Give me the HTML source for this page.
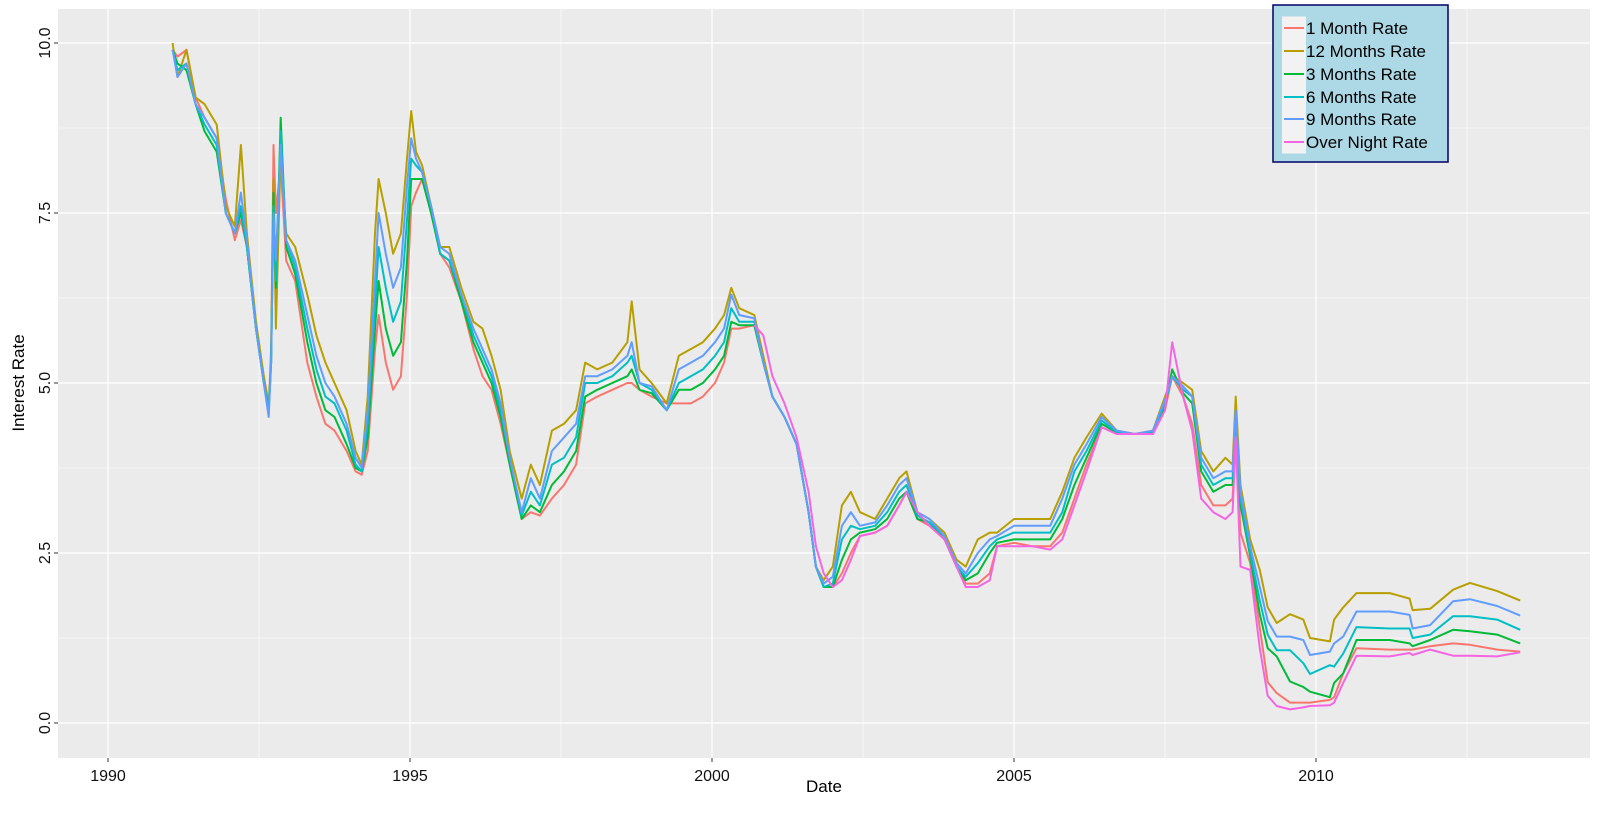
<!DOCTYPE html>
<html><head><meta charset="utf-8"><style>
html,body{margin:0;padding:0;background:#fff;}
svg{display:block;font-family:"Liberation Sans",Arial,sans-serif;}
</style></head><body>
<svg id="chart" width="1600" height="817" viewBox="0 0 1600 817">
<rect x="58" y="9" width="1532" height="749" fill="#EBEBEB"/>
<g id="grid"></g>
<g id="series"></g>
<g id="axes"></g>
<text x="824" y="792" text-anchor="middle" font-size="17" fill="#000">Date</text>
<text transform="translate(24,383) rotate(-90)" text-anchor="middle" font-size="17" fill="#000">Interest Rate</text>
<g id="legend">
<rect x="1273" y="5" width="175" height="157" fill="#ADD8E6" stroke="#000066" stroke-width="1.5"/>
</g>
</svg>
<script>
const dates=[1991.07,1991.15,1991.3,1991.45,1991.6,1991.8,1991.95,1992.1,1992.2,1992.3,1992.45,1992.58,1992.66,1992.7,1992.74,1992.78,1992.86,1992.95,1993.1,1993.3,1993.45,1993.6,1993.75,1993.95,1994.1,1994.2,1994.3,1994.42,1994.48,1994.6,1994.72,1994.85,1994.95,1995.02,1995.1,1995.2,1995.35,1995.5,1995.65,1995.85,1996.05,1996.2,1996.35,1996.5,1996.65,1996.85,1997.0,1997.15,1997.35,1997.55,1997.75,1997.9,1998.1,1998.35,1998.6,1998.67,1998.8,1999.0,1999.25,1999.45,1999.65,1999.85,2000.05,2000.2,2000.32,2000.45,2000.7,2000.85,2001.0,2001.2,2001.4,2001.6,2001.72,2001.85,2002.0,2002.15,2002.3,2002.45,2002.7,2002.9,2003.1,2003.22,2003.4,2003.6,2003.85,2004.05,2004.2,2004.4,2004.6,2004.72,2005.0,2005.3,2005.6,2005.8,2006.0,2006.2,2006.45,2006.7,2007.0,2007.3,2007.5,2007.62,2007.8,2007.95,2008.1,2008.3,2008.5,2008.62,2008.67,2008.75,2008.91,2009.07,2009.2,2009.35,2009.57,2009.79,2009.9,2010.23,2010.3,2010.45,2010.67,2011.22,2011.55,2011.6,2011.89,2012.27,2012.55,2013.0,2013.38];
const rate12m=[10.0,9.5,9.9,9.2,9.1,8.8,7.6,7.3,8.5,7.2,5.9,5.1,4.6,5.5,8.0,5.8,8.4,7.2,7.0,6.3,5.7,5.3,5.0,4.6,4.0,3.8,4.8,7.2,8.0,7.5,6.9,7.2,8.3,9.0,8.4,8.2,7.6,7.0,7.0,6.4,5.9,5.8,5.4,4.9,4.0,3.3,3.8,3.5,4.3,4.4,4.6,5.3,5.2,5.3,5.6,6.2,5.2,5.0,4.7,5.4,5.5,5.6,5.8,6.0,6.4,6.1,6.0,5.4,4.8,4.5,4.1,3.1,2.3,2.1,2.3,3.2,3.4,3.1,3.0,3.3,3.6,3.7,3.1,3.0,2.8,2.4,2.3,2.7,2.8,2.8,3.0,3.0,3.0,3.4,3.9,4.2,4.55,4.3,4.25,4.3,4.8,5.1,5.0,4.9,4.0,3.7,3.9,3.8,4.8,3.5,2.7,2.25,1.7,1.47,1.6,1.52,1.25,1.2,1.52,1.7,1.91,1.91,1.83,1.66,1.68,1.96,2.06,1.94,1.8];
const rate9m=[9.9,9.5,9.7,9.1,8.9,8.6,7.5,7.2,7.8,7.1,5.8,5.0,4.5,5.3,7.5,6.8,8.5,7.1,6.8,6.0,5.4,5.0,4.8,4.4,3.9,3.75,4.6,6.5,7.5,6.9,6.4,6.7,7.9,8.6,8.3,8.1,7.6,7.0,6.9,6.3,5.8,5.5,5.2,4.7,3.9,3.1,3.6,3.3,4.0,4.2,4.4,5.1,5.1,5.2,5.4,5.6,5.0,4.95,4.6,5.2,5.3,5.4,5.6,5.8,6.3,6.0,5.95,5.3,4.8,4.5,4.1,3.1,2.3,2.05,2.15,2.9,3.1,2.9,2.95,3.2,3.5,3.6,3.1,3.0,2.75,2.35,2.2,2.5,2.7,2.75,2.9,2.9,2.9,3.3,3.8,4.1,4.5,4.3,4.25,4.3,4.75,5.1,4.95,4.8,3.9,3.6,3.7,3.7,4.6,3.4,2.6,2.0,1.5,1.27,1.27,1.22,1.0,1.05,1.17,1.27,1.64,1.64,1.59,1.39,1.44,1.79,1.82,1.72,1.58];
const rate6m=[9.9,9.6,9.7,9.1,8.8,8.5,7.5,7.2,7.6,7.0,5.8,5.0,4.6,5.3,7.6,6.5,8.7,7.1,6.7,5.8,5.2,4.8,4.7,4.3,3.8,3.7,4.4,6.1,7.0,6.4,5.9,6.2,7.4,8.3,8.2,8.1,7.6,6.9,6.8,6.3,5.7,5.4,5.1,4.6,3.9,3.05,3.4,3.2,3.8,3.9,4.2,5.0,5.0,5.1,5.3,5.4,5.0,4.9,4.6,5.0,5.1,5.2,5.4,5.6,6.1,5.9,5.9,5.3,4.8,4.5,4.1,3.1,2.3,2.0,2.05,2.7,2.9,2.85,2.9,3.1,3.4,3.5,3.05,2.95,2.75,2.3,2.15,2.35,2.6,2.7,2.8,2.8,2.8,3.1,3.7,4.0,4.45,4.28,4.25,4.28,4.7,5.1,4.9,4.8,3.8,3.5,3.6,3.6,4.5,3.3,2.5,1.8,1.3,1.07,1.07,0.88,0.72,0.85,0.83,1.02,1.41,1.39,1.39,1.25,1.3,1.57,1.57,1.52,1.37];
const rate3m=[9.9,9.7,9.6,9.1,8.7,8.4,7.5,7.2,7.5,7.0,5.8,5.0,4.6,5.3,7.8,6.4,8.9,7.0,6.6,5.6,5.0,4.6,4.5,4.1,3.75,3.7,4.2,5.8,6.5,5.8,5.4,5.6,6.8,8.0,8.0,8.0,7.5,6.9,6.8,6.2,5.6,5.3,5.0,4.5,3.8,3.0,3.2,3.1,3.5,3.7,4.0,4.8,4.9,5.0,5.1,5.2,4.9,4.85,4.6,4.9,4.9,5.0,5.2,5.4,5.9,5.85,5.85,5.3,4.8,4.5,4.1,3.1,2.3,2.0,2.0,2.4,2.7,2.8,2.85,3.0,3.3,3.4,3.0,2.95,2.7,2.3,2.1,2.2,2.5,2.65,2.7,2.7,2.7,3.0,3.5,3.9,4.4,4.27,4.25,4.27,4.65,5.2,4.85,4.7,3.7,3.4,3.5,3.5,4.4,3.2,2.45,1.6,1.1,0.98,0.61,0.53,0.46,0.38,0.59,0.73,1.22,1.22,1.17,1.13,1.22,1.37,1.35,1.3,1.17];
const rate1m=[9.9,9.8,9.9,9.2,8.9,8.6,7.7,7.1,7.4,7.0,5.8,5.1,4.7,5.3,8.5,7.5,8.2,6.8,6.5,5.3,4.8,4.4,4.3,4.0,3.7,3.65,4.0,5.5,6.0,5.3,4.9,5.1,6.3,7.6,7.8,8.0,7.5,6.9,6.7,6.2,5.5,5.1,4.9,4.4,3.8,3.0,3.1,3.05,3.3,3.5,3.8,4.7,4.8,4.9,5.0,5.0,4.9,4.8,4.7,4.7,4.7,4.8,5.0,5.3,5.8,5.8,5.85,5.3,4.8,4.5,4.1,3.1,2.3,2.0,2.0,2.2,2.5,2.75,2.8,2.9,3.2,3.4,3.0,2.9,2.7,2.3,2.05,2.05,2.2,2.6,2.65,2.6,2.6,2.8,3.3,3.8,4.35,4.25,4.25,4.25,4.6,5.1,4.8,4.4,3.5,3.2,3.2,3.3,4.3,2.8,2.35,1.4,0.6,0.44,0.30,0.30,0.30,0.34,0.38,0.73,1.1,1.08,1.08,1.08,1.13,1.17,1.15,1.08,1.05];
const rateON=[null,null,null,null,null,null,null,null,null,null,null,null,null,null,null,null,null,null,null,null,null,null,null,null,null,null,null,null,null,null,null,null,null,null,null,null,null,null,null,null,null,null,null,null,null,null,null,null,null,null,null,null,null,null,null,null,null,null,null,null,null,null,null,null,null,null,5.85,5.7,5.1,4.7,4.2,3.4,2.6,2.2,2.0,2.1,2.4,2.75,2.8,2.9,3.2,3.4,3.1,2.9,2.7,2.3,2.0,2.0,2.1,2.6,2.6,2.6,2.55,2.7,3.2,3.7,4.35,4.25,4.25,4.25,4.6,5.6,4.8,4.3,3.3,3.1,3.0,3.1,4.2,2.3,2.25,1.1,0.4,0.25,0.2,0.23,0.25,0.26,0.3,0.59,0.99,0.98,1.03,1.0,1.08,0.99,0.99,0.98,1.04];
const seriesNames=["1 Month Rate","12 Months Rate","3 Months Rate","6 Months Rate","9 Months Rate","Over Night Rate"];
const seriesData=[rate1m,rate12m,rate3m,rate6m,rate9m,rateON];
const seriesColors=["#F8766D","#B79F00","#00BA38","#00BFC4","#619CFF","#F564E3"];
const xTicks=[1990,1995,2000,2005,2010];
const yTicks=[0,2.5,5,7.5,10];
const yTickLabels=["0.0","2.5","5.0","7.5","10.0"];

const NS="http://www.w3.org/2000/svg";
const X0=58,X1=1590,Y0=9,Y1=758;
function xs(yr){return 108+(yr-1990)*60.4;}
function ys(v){return 723-v*68;}
function mk(tag,attrs,parent){const e=document.createElementNS(NS,tag);for(const k in attrs)e.setAttribute(k,attrs[k]);parent.appendChild(e);return e;}

const grid=document.getElementById('grid');
// minor grid
for(let i=0;i<xTicks.length;i++){
  const m=xTicks[i]+2.5; if(xs(m)<X1){
    const l=mk('line',{x1:xs(m),x2:xs(m),y1:Y0,y2:Y1,stroke:'#fff','stroke-width':0.6},grid);
    
    
  }
}
for(let i=0;i<yTicks.length-1;i++){
  const m=yTicks[i]+1.25;
  const l=mk('line',{x1:X0,x2:X1,y1:ys(m),y2:ys(m),stroke:'#fff','stroke-width':0.6},grid);
  
  
}
const axes=document.getElementById('axes');
xTicks.forEach(t=>{
  const l=mk('line',{x1:xs(t),x2:xs(t),y1:Y0,y2:Y1,stroke:'#fff','stroke-width':1.2},grid);
  
  
  const tk=mk('line',{x1:xs(t),x2:xs(t),y1:Y1,y2:Y1+4,stroke:'#333','stroke-width':1},axes);
  
  
  const tx=mk('text',{x:xs(t),y:Y1+23,'text-anchor':'middle','font-size':16,fill:'#111'},axes);
  tx.textContent=String(t);
  
  
});
yTicks.forEach((t,i)=>{
  const l=mk('line',{x1:X0,x2:X1,y1:ys(t),y2:ys(t),stroke:'#fff','stroke-width':1.2},grid);
  
  
  const tk=mk('line',{x1:X0-4,x2:X0,y1:ys(t),y2:ys(t),stroke:'#333','stroke-width':1},axes);
  
  
  const tx=mk('text',{transform:`translate(${X0-8},${ys(t)}) rotate(-90)`,'text-anchor':'middle','font-size':16,fill:'#111'},axes);
  tx.textContent=yTickLabels[i];
  
  
});

const sg=document.getElementById('series');
seriesData.forEach((vals,si)=>{
  let d='';let pen=false;
  for(let i=0;i<dates.length;i++){
    const v=vals[i];
    if(v===null||v===undefined){pen=false;continue;}
    d+=(pen?'L':'M')+xs(dates[i]).toFixed(1)+','+ys(v).toFixed(1);
    pen=true;
  }
  const p=mk('path',{d:d,fill:'none',stroke:seriesColors[si],'stroke-width':2,'stroke-linejoin':'round'},sg);
  
  
});

const lg=document.getElementById('legend');
const rowsY=[28,51,74,97,119,142];
seriesNames.forEach((n,i)=>{
  const k=mk('rect',{x:1282,y:rowsY[i]-11.5,width:24,height:23,fill:'#F2F2F2'},lg);
  
  
  const l=mk('line',{x1:1284,x2:1304,y1:rowsY[i],y2:rowsY[i],stroke:seriesColors[i],'stroke-width':2},lg);
  
  
  const t=mk('text',{x:1306,y:rowsY[i]+6,'font-size':17,fill:'#000'},lg);
  t.textContent=n;
  
  
});
</script>
</body></html>
